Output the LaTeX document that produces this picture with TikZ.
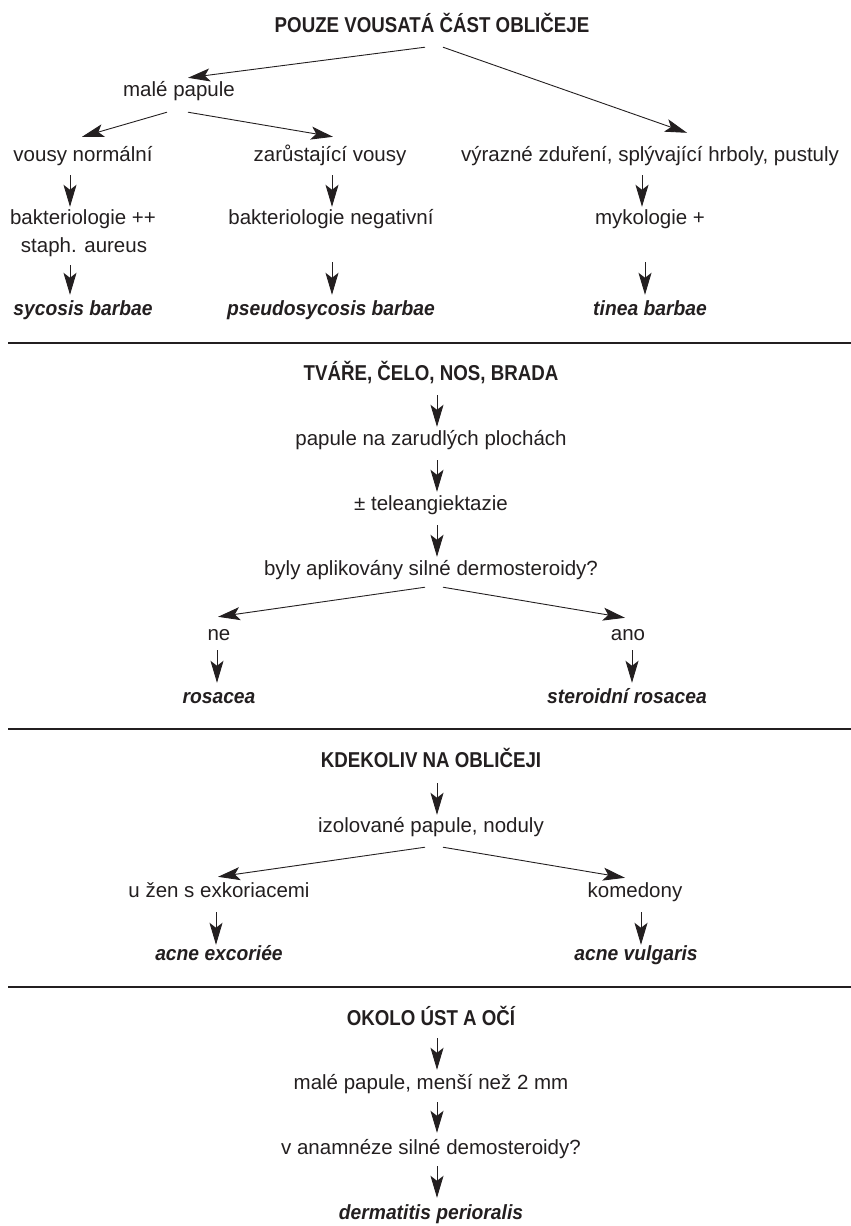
\documentclass[tikz,border=0pt]{standalone}
\usepackage{fontspec}
\setmainfont{Liberation Sans}
\newfontfamily\titlefont{Liberation Sans}[FakeStretch=0.87]
\newfontfamily\dxfont{Liberation Sans}[FakeStretch=0.94]
\usetikzlibrary{arrows.meta,calc}
\definecolor{ink}{RGB}{35,31,32}
\tikzset{
  lbl/.style={anchor=base, inner sep=0pt, text height=15pt, text depth=4pt, text=ink,
    font=\fontsize{20.5}{24}\selectfont},
  ttl/.style={lbl, font=\titlefont\bfseries\fontsize{21.5}{24}\selectfont},
  dx/.style={lbl, font=\dxfont\bfseries\itshape\fontsize{20.5}{24}\selectfont},
  arr/.style={draw=ink, line width=0.9pt, -{Stealth[length=22pt,width=13pt,inset=5pt]}},
  sep/.style={draw=ink, line width=1.3pt}
}
\begin{document}
\begin{tikzpicture}[x=1pt,y=-1pt]
\useasboundingbox (0,0) rectangle (851,1226);
% ---------- section 1 ----------
\node[ttl] (t1) at (432,32.5) {POUZE VOUSATÁ ČÁST OBLIČEJE};
\node[lbl] (mp) at (179,96) {malé papule};
\node[lbl] (vn) at (83,161) {vousy normální};
\node[lbl] (zv) at (330,161) {zarůstající vousy};
\node[lbl] (vz) at (650,161) {výrazné zduření, splývající hrboly, pustuly};
\node[lbl] (b1) at (83,224) {bakteriologie ++};
\node[lbl] (b2) at (84,252) {staph. aureus};
\node[lbl] (bn) at (331,224) {bakteriologie negativní};
\node[lbl] (my) at (650,224) {mykologie +};
\node[dx] (sb) at (83,315) {sycosis barbae};
\node[dx] (pb) at (331,315) {pseudosycosis barbae};
\node[dx] (tb) at (650,315) {tinea barbae};
\draw[arr] ([shift={(-7,10.5)}]t1.south) -- ([shift={(9,-3)}]mp.north);
\draw[arr] ([shift={(11,10.5)}]t1.south) -- ([shift={(37,-13)}]vz.north);
\draw[arr] ([shift={(-12,12)}]mp.south) -- ([shift={(-1,-9)}]vn.north);
\draw[arr] ([shift={(9,12)}]mp.south) -- ([shift={(3,-9)}]zv.north);
\draw[arr] ([shift={(-13,10)}]vn.south) -- ([shift={(-13,-2)}]b1.north);
\draw[arr] ([shift={(2,10)}]zv.south) -- ([shift={(1,-2)}]bn.north);
\draw[arr] ([shift={(-8,10)}]vz.south) -- ([shift={(-8,-2)}]my.north);
\draw[arr] ([shift={(-14,9)}]b2.south) -- ([shift={(-13,-5)}]sb.north);
\draw[arr] ([shift={(1,34)}]bn.south) -- ([shift={(1,-5)}]pb.north);
\draw[arr] ([shift={(-5,34)}]my.south) -- ([shift={(-5,-5)}]tb.north);
\draw[sep] (8,343) -- (851,343);
% ---------- section 2 ----------
\node[ttl] (t2) at (431,380.5) {TVÁŘE, ČELO, NOS, BRADA};
\node[lbl] (pz) at (431,445) {papule na zarudlých plochách};
\node[lbl] (tl) at (431,510) {± teleangiektazie};
\node[lbl] (by) at (431,575) {byly aplikovány silné dermosteroidy?};
\node[lbl] (ne) at (219,640) {ne};
\node[lbl] (ano) at (628,640) {ano};
\node[dx] (ro) at (219,703) {rosacea};
\node[dx] (sr) at (627,703) {steroidní rosacea};
\draw[arr] ([shift={(6,10.5)}]t2.south) -- ([shift={(6,-3)}]pz.north);
\draw[arr] ([shift={(6,11)}]pz.south) -- ([shift={(6,-3)}]tl.north);
\draw[arr] ([shift={(6,11)}]tl.south) -- ([shift={(6,-3)}]by.north);
\draw[arr] ([shift={(-6,8)}]by.south) -- ([shift={(-1,-8)}]ne.north);
\draw[arr] ([shift={(12,8)}]by.south) -- ([shift={(-3,-7)}]ano.north);
\draw[arr] ([shift={(-2,6)}]ne.south) -- ([shift={(-2,-5)}]ro.north);
\draw[arr] ([shift={(4,6)}]ano.south) -- ([shift={(5,-5)}]sr.north);
\draw[sep] (8,729) -- (851,729);
% ---------- section 3 ----------
\node[ttl] (t3) at (431,767) {KDEKOLIV NA OBLIČEJI};
\node[lbl] (iz) at (431,832) {izolované papule, noduly};
\node[lbl] (uz) at (219,897) {u žen s exkoriacemi};
\node[lbl] (ko) at (635,897) {komedony};
\node[dx] (ae) at (219,960) {acne excoriée};
\node[dx] (av) at (636,960) {acne vulgaris};
\draw[arr] ([shift={(6,12)}]t3.south) -- ([shift={(6,-2)}]iz.north);
\draw[arr] ([shift={(-6,11)}]iz.south) -- ([shift={(-1,-5)}]uz.north);
\draw[arr] ([shift={(12,11)}]iz.south) -- ([shift={(-10,-4)}]ko.north);
\draw[arr] ([shift={(-3,11)}]uz.south) -- ([shift={(-3,0)}]ae.north);
\draw[arr] ([shift={(6,11)}]ko.south) -- ([shift={(5,0)}]av.north);
\draw[sep] (8,987) -- (851,987);
% ---------- section 4 ----------
\node[ttl] (t4) at (431,1025.5) {OKOLO ÚST A OČÍ};
\node[lbl] (m2) at (431,1089) {malé papule, menší než 2 mm};
\node[lbl] (va) at (431,1154) {v anamnéze silné demosteroidy?};
\node[dx] (dp) at (431,1219) {dermatitis perioralis};
\draw[arr] ([shift={(6,8.5)}]t4.south) -- ([shift={(6,-4)}]m2.north);
\draw[arr] ([shift={(6,9)}]m2.south) -- ([shift={(6,-6)}]va.north);
\draw[arr] ([shift={(6,8)}]va.south) -- ([shift={(6,-6)}]dp.north);
\end{tikzpicture}
\end{document}
